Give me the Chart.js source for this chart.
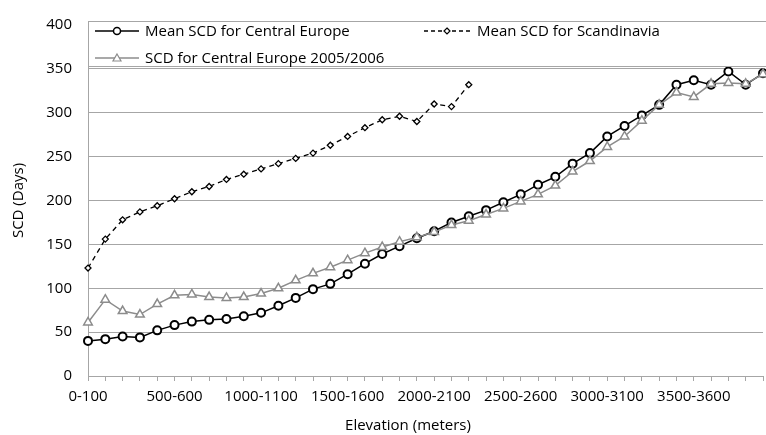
<!DOCTYPE html>
<html>
<head>
<meta charset="utf-8">
<script src="https://cdn.jsdelivr.net/npm/chart.js@4.4.1/dist/chart.umd.min.js"></script>
<style>
  html, body { margin: 0; padding: 0; background: #fff; overflow: hidden; width: 766px; height: 435px; }
  #wrap { position: relative; width: 766px; height: 435px; overflow: hidden; }
  canvas { position: absolute; left: 0; top: 0; }
  #legend { position: absolute; left: 88px; top: 21px; width: 677px; height: 44px; border: 1px solid #a6a6a6; background: #fff; font-family: "Open Sans", Lato, sans-serif; font-size: 15px; color: #000; }
  .item { position: absolute; white-space: nowrap; line-height: 18px; }
  .item svg { position: absolute; top: 0; }
  .item span { position: absolute; top: -1px; }
  #xtitle { position: absolute; top: 414px; left: 408px; transform: translateX(-50%); font-family: "Open Sans", Lato, sans-serif; font-size: 15px; color: #000; white-space: nowrap; }
</style>
</head>
<body>
<div id="wrap">
  <canvas id="c" width="770" height="435"></canvas>
  <div id="legend"></div>
  <div id="xtitle"></div>
</div>
<script>
const categories = ['0-100','100-200','200-300','300-400','400-500','500-600','600-700','700-800','800-900','900-1000',
  '1000-1100','1100-1200','1200-1300','1300-1400','1400-1500','1500-1600','1600-1700','1700-1800','1800-1900','1900-2000',
  '2000-2100','2100-2200','2200-2300','2300-2400','2400-2500','2500-2600','2600-2700','2700-2800','2800-2900','2900-3000',
  '3000-3100','3100-3200','3200-3300','3300-3400','3400-3500','3500-3600','3600-3700','3700-3800','3800-3900','3900-4000'];
const shownLabels = ['0-100','500-600','1000-1100','1500-1600','2000-2100','2500-2600','3000-3100','3500-3600'];
const yTicks = [0,50,100,150,200,250,300,350,400];

const seriesNames = ['Mean SCD for Central Europe','Mean SCD for Scandinavia','SCD for Central Europe 2005/2006'];
const meanCentralEurope = [40,42,45,44,52,58,62,64,65,68,72,80,89,99,105,116,128,139,148,157,
  165,175,182,189,198,207,218,227,242,254,273,285,297,309,332,337,332,347,332,345];
const meanScandinavia = [123,156,178,187,194,202,210,216,224,230,236,242,248,254,263,273,283,292,296,290,
  310,307,332];
const centralEurope2005 = [61,87,74,70,82,92,93,90,89,90,94,100,109,117,124,132,140,147,153,158,
  164,172,177,184,191,199,207,217,233,245,261,273,291,309,323,318,333,334,333,344];
const xTitle = 'Elevation (meters)';
const yTitle = 'SCD (Days)';

const FONT = '"Open Sans", Lato, sans-serif';
const GRID = '#a6a6a6';
const GRAY = '#8c8c8c';

const chart = new Chart(document.getElementById('c'), {
  type: 'line',
  data: {
    labels: categories,
    datasets: [
      {
        label: seriesNames[2], data: centralEurope2005, order: 0,
        borderColor: GRAY, borderWidth: 1.5, pointStyle: 'triangle', pointRadius: 5,
        pointBackgroundColor: '#ffffff', pointBorderColor: GRAY, pointBorderWidth: 1.5, tension: 0
      },
      {
        label: seriesNames[0], data: meanCentralEurope, order: 1,
        borderColor: '#000', borderWidth: 1.5, pointStyle: 'circle', pointRadius: 4,
        pointBackgroundColor: '#ffffff', pointBorderColor: '#000', pointBorderWidth: 2, tension: 0
      },
      {
        label: seriesNames[1], data: meanScandinavia, order: 2,
        borderColor: '#000', borderWidth: 1.3, borderDash: [5, 4], pointStyle: 'rectRot', pointRadius: 3,
        pointBackgroundColor: '#ffffff', pointBorderColor: '#000', pointBorderWidth: 1.3, tension: 0
      }
    ]
  },
  options: {
    responsive: false,
    animation: false,
    layout: { padding: { top: 21, left: 0, right: 1, bottom: 0 } },
    plugins: { legend: { display: false }, tooltip: { enabled: false } },
    scales: {
      x: {
        type: 'category', offset: false,
        afterFit: s => { s.height = 59; },
        grid: { drawOnChartArea: false, drawTicks: true, tickLength: 5, color: GRID, lineWidth: 1 },
        border: { color: GRID, width: 1 },
        ticks: {
          autoSkip: false, maxRotation: 0, minRotation: 0, padding: 7, color: '#000',
          font: { family: FONT, size: 15 },
          callback: function(v, i) { const l = this.getLabelForValue(v); return shownLabels.includes(l) ? l : ''; }
        }
      },
      y: {
        min: 0, max: 400,
        afterFit: s => { s.width = 88; },
        afterBuildTicks: s => { s.ticks = yTicks.map(v => ({ value: v })); },
        grid: { color: GRID, lineWidth: 1, drawTicks: false },
        border: { color: GRID, width: 1 },
        ticks: { padding: 16, color: '#000', font: { family: FONT, size: 15 } },
        title: { display: true, text: yTitle, color: '#000', font: { family: FONT, size: 15 }, padding: { top: 10, bottom: 0 } }
      }
    }
  }
});

document.getElementById('xtitle').textContent = xTitle;

// HTML legend (real text)
const legend = document.getElementById('legend');
function svgSym(kind, color, dashed) {
  const line = dashed
    ? `<line x1="0" y1="9" x2="46" y2="9" stroke="${color}" stroke-width="1.3" stroke-dasharray="4,3"/>`
    : `<line x1="0" y1="9" x2="44" y2="9" stroke="${color}" stroke-width="1.5"/>`;
  let m = '';
  if (kind === 'circle') m = `<circle cx="22" cy="9" r="3.5" fill="#fff" stroke="${color}" stroke-width="1.5"/>`;
  if (kind === 'rectRot') m = `<polygon points="23,6 26,9 23,12 20,9" fill="#fff" stroke="${color}" stroke-width="1.2"/>`;
  if (kind === 'triangle') m = `<polygon points="22,5 26,12 18,12" fill="#fff" stroke="${color}" stroke-width="1.2"/>`;
  return `<svg width="48" height="18">${line}${m}</svg>`;
}
const items = [
  { name: seriesNames[0], kind: 'circle', color: '#000', dashed: false, x: 6, y: 0, tx: 56 },
  { name: seriesNames[1], kind: 'rectRot', color: '#000', dashed: true, x: 335, y: 0, tx: 388 },
  { name: seriesNames[2], kind: 'triangle', color: GRAY, dashed: false, x: 6, y: 27, tx: 56 }
];
items.forEach(it => {
  const d = document.createElement('div');
  d.className = 'item';
  d.style.left = it.x + 'px';
  d.style.top = it.y + 'px';
  d.innerHTML = svgSym(it.kind, it.color, it.dashed) + `<span style="left:${it.tx - it.x}px">${it.name}</span>`;
  legend.appendChild(d);
});
</script>
</body>
</html>
